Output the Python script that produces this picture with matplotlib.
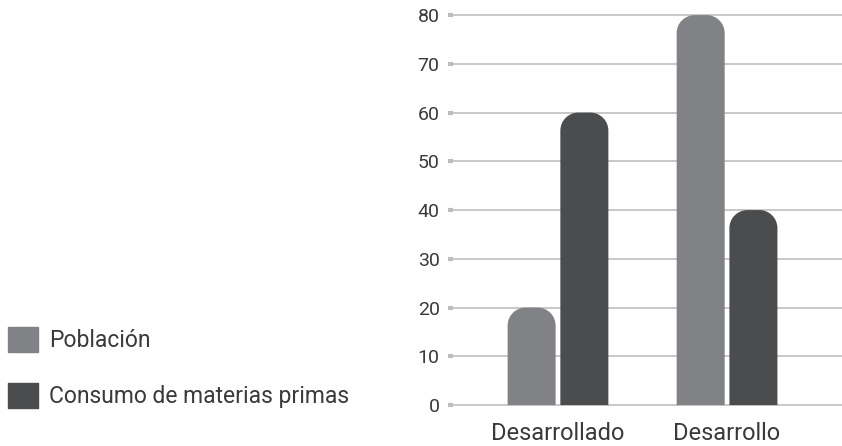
import matplotlib.pyplot as plt
import numpy as np
from matplotlib.patches import PathPatch, Patch
from matplotlib.path import Path

# data
groups = ['Desarrollado', 'Desarrollo']
poblacion = [20, 80]
consumo = [60, 40]
series_names = ['Población', 'Consumo de materias primas']
yticks = [0, 10, 20, 30, 40, 50, 60, 70, 80]

c_pob = '#818285'
c_con = '#4b4c4e'
text_color = '#3a3a3a'
grid_color = '#c4c4c4'

plt.rcParams['font.family'] = ['Roboto', 'DejaVu Sans']

W, H = 842, 446
fig = plt.figure(figsize=(W / 100, H / 100), dpi=100)
ax = fig.add_axes([453 / W, 39 / H, 389 / W, 407 / H])

x = np.arange(len(groups))
bw = 0.284
off = 0.156
ax.set_xlim(-0.621, 1.68)
ax.set_ylim(-0.4, 83.1)

bars_p = ax.bar(x - off, poblacion, bw, color=c_pob)
bars_c = ax.bar(x + off, consumo, bw, color=c_con)

# swap plain rectangles for bars with rounded top corners
pos = ax.get_position()
px_x = pos.width * W / np.diff(ax.get_xlim())[0]
px_y = pos.height * H / np.diff(ax.get_ylim())[0]
r_px = 18
rx, ry = r_px / px_x, r_px / px_y
k = 0.5523


def rounded_top(rect):
    x0 = rect.get_x()
    x1 = x0 + rect.get_width()
    h = rect.get_height()
    verts = [
        (x0, 0), (x0, h - ry),
        (x0, h - ry + k * ry), (x0 + rx - k * rx, h), (x0 + rx, h),
        (x1 - rx, h),
        (x1 - rx + k * rx, h), (x1, h - ry + k * ry), (x1, h - ry),
        (x1, 0), (x0, 0),
    ]
    codes = [Path.MOVETO, Path.LINETO,
             Path.CURVE4, Path.CURVE4, Path.CURVE4,
             Path.LINETO,
             Path.CURVE4, Path.CURVE4, Path.CURVE4,
             Path.LINETO, Path.CLOSEPOLY]
    patch = PathPatch(Path(verts, codes), facecolor=rect.get_facecolor(),
                      edgecolor='none', zorder=3)
    ax.add_patch(patch)
    rect.set_visible(False)


for rect in list(bars_p) + list(bars_c):
    rounded_top(rect)

# axes styling
for s in ax.spines.values():
    s.set_visible(False)
ax.set_axisbelow(True)
ax.yaxis.grid(True, color=grid_color, linewidth=1.3)
ax.set_yticks(yticks)
ax.set_yticklabels([str(v) for v in yticks])
ax.tick_params(axis='y', length=3.6, width=3, color='#bdbdbd', pad=6,
               labelsize=14, labelcolor=text_color)
ax.set_xticks(x)
ax.set_xticklabels(groups)
ax.tick_params(axis='x', length=0, pad=11, labelsize=17, labelcolor=text_color)

handles = [Patch(color=c_pob), Patch(color=c_con)]
fig.legend(handles, series_names, loc='upper left',
           bbox_to_anchor=(8 / W, 1 - 327 / H), frameon=False,
           fontsize=16.5, labelcolor=text_color, borderpad=0, borderaxespad=0,
           handlelength=1.3, handleheight=1.3, handletextpad=0.5,
           labelspacing=1.35)

fig.savefig('out.png', dpi=100)
